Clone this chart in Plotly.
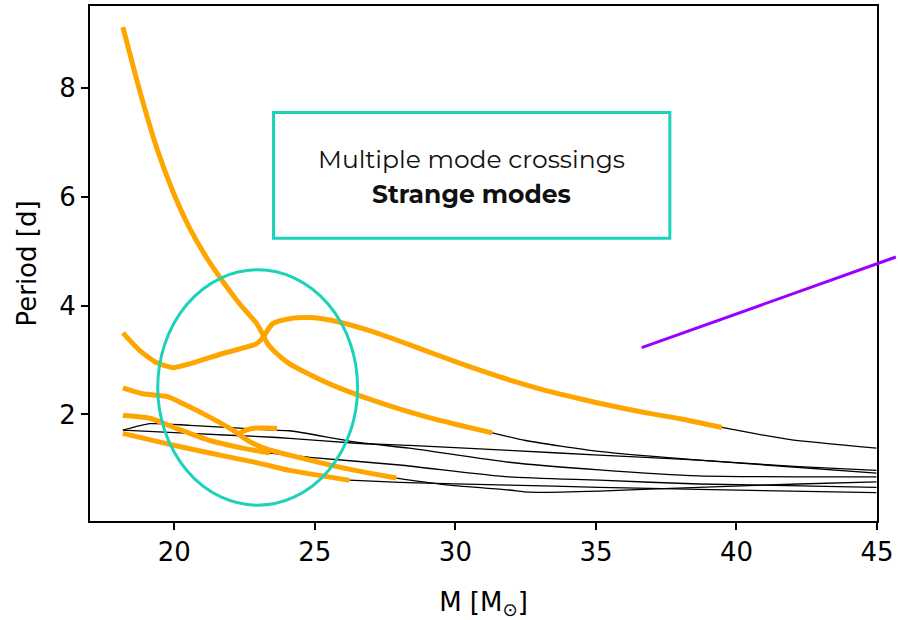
import plotly.graph_objects as go

# Stellar mass grid [M_sun] and pulsation periods [d] for each mode track.
# Each track has a highlighted (strange-mode) part and a thin continuation.

# Track A: steep mode, highlighted from 18.2 to 31.3 M_sun
a_hi_mass = [18.17, 18.78, 19.38, 19.95, 20.55, 21.15, 21.72, 22.33, 22.93, 23.14,
             23.32, 23.64, 24.10, 24.71, 25.27, 26.0, 27.0, 28.0, 29.0, 30.0, 31.31]
a_hi_period = [9.12, 7.93, 6.89, 6.10, 5.42, 4.88, 4.45, 4.03, 3.67, 3.48,
               3.30, 3.12, 2.93, 2.76, 2.62, 2.46, 2.27, 2.10, 1.95, 1.82, 1.66]
a_lo_mass = [31.31, 32.5, 35.11, 38.66, 42.21, 44.98]
a_lo_period = [1.66, 1.52, 1.32, 1.16, 1.04, 0.97]

# Track B: mode with the hump after the avoided crossing
b_hi_mass = [18.17, 18.78, 19.38, 19.95, 20.55, 21.72, 22.93, 23.14, 23.50, 24.10,
             24.71, 25.27, 26.0, 27.0, 28.0, 29.0, 30.0, 31.0, 32.0, 33.0, 34.0,
             35.0, 36.0, 37.0, 38.0, 39.48]
b_hi_period = [3.50, 3.17, 2.95, 2.86, 2.93, 3.12, 3.30, 3.41, 3.67, 3.76,
               3.78, 3.76, 3.68, 3.53, 3.35, 3.16, 2.97, 2.79, 2.62, 2.47, 2.34,
               2.22, 2.11, 2.01, 1.92, 1.76]
b_lo_mass = [39.48, 41.86, 44.98]
b_lo_period = [1.76, 1.54, 1.38]

# Track C
c_hi_mass = [18.17, 18.88, 19.73, 20.30, 21.26, 22.08, 22.68, 23.29, 24.10, 24.81,
             25.88, 26.94, 27.90]
c_hi_period = [2.49, 2.38, 2.33, 2.20, 1.95, 1.71, 1.50, 1.36, 1.25, 1.16,
               1.03, 0.92, 0.83]
c_lo_mass = [27.90, 29.78, 31.91, 32.63, 35.11, 38.66, 42.21, 44.98]
c_lo_period = [0.83, 0.70, 0.61, 0.57, 0.59, 0.66, 0.72, 0.76]

# Track D
d_hi_mass = [18.17, 19.13, 20.09, 21.26, 22.43, 23.39]
d_hi_period = [1.98, 1.93, 1.74, 1.52, 1.38, 1.29]
d_lo_mass = [23.39, 24.81, 28.01, 31.91, 35.11, 38.66, 44.98]
d_lo_period = [1.29, 1.21, 1.07, 0.85, 0.79, 0.72, 0.66]

# Track E
e_hi_mass = [18.17, 19.49, 21.26, 23.04, 24.10, 26.23]
e_hi_period = [1.65, 1.49, 1.29, 1.10, 0.97, 0.79]
e_lo_mass = [26.23, 28.01, 31.91, 35.11, 38.66, 44.98]
e_lo_period = [0.79, 0.75, 0.70, 0.66, 0.62, 0.56]

# Short highlighted branch near the crossing
f_hi_mass = [22.25, 22.55, 22.90, 23.30, 23.65]
f_hi_period = [1.64, 1.71, 1.75, 1.75, 1.74]

# Un-highlighted tracks
g1_mass = [18.17, 19.13, 20.55, 23.50, 24.10, 26.48, 28.36, 31.91, 35.11, 38.66, 44.98]
g1_period = [1.71, 1.83, 1.80, 1.71, 1.70, 1.49, 1.38, 1.12, 0.98, 0.87, 0.85]
g2_mass = [18.17, 20.55, 23.50, 24.10, 26.48, 28.36, 31.91, 35.11, 38.66, 44.98]
g2_period = [1.71, 1.65, 1.58, 1.56, 1.47, 1.43, 1.34, 1.25, 1.16, 0.92]

ORANGE = "#FFA500"
TEAL = "#1CD3BA"
PURPLE = "#9B00FF"

fig = go.Figure()

thin = [(a_lo_mass, a_lo_period), (b_lo_mass, b_lo_period), (c_lo_mass, c_lo_period),
        (d_lo_mass, d_lo_period), (e_lo_mass, e_lo_period),
        (g1_mass, g1_period), (g2_mass, g2_period)]
for xs, ys in thin:
    fig.add_trace(go.Scatter(x=xs, y=ys, mode="lines",
                             line=dict(color="black", width=1.3, shape="spline", smoothing=0.6),
                             hoverinfo="skip"))

thick = [(a_hi_mass, a_hi_period), (b_hi_mass, b_hi_period), (c_hi_mass, c_hi_period),
         (d_hi_mass, d_hi_period), (e_hi_mass, e_hi_period), (f_hi_mass, f_hi_period)]
for xs, ys in thick:
    fig.add_trace(go.Scatter(x=xs, y=ys, mode="lines",
                             line=dict(color=ORANGE, width=5, shape="spline", smoothing=0.6),
                             hoverinfo="skip"))

# Callout box, highlight ellipse and pointer line
fig.add_shape(type="rect", xref="x", yref="y", x0=23.53, x1=37.63, y0=5.24, y1=7.55,
              line=dict(color=TEAL, width=3), fillcolor="rgba(0,0,0,0)")
fig.add_shape(type="circle", xref="x", yref="y", x0=19.41, x1=26.52, y0=0.33, y1=4.66,
              line=dict(color=TEAL, width=3))
fig.add_shape(type="line", xref="paper", yref="paper", x0=0.701, y0=0.3366, x1=1.024, y1=0.5126,
              line=dict(color=PURPLE, width=3))

fig.add_annotation(x=30.57, y=6.69, xref="x", yref="y", showarrow=False,
                   text="Multiple mode crossings",
                   font=dict(family="Montserrat, Open Sans, sans-serif", size=25, color="#111111"))
fig.add_annotation(x=30.57, y=6.05, xref="x", yref="y", showarrow=False,
                   text="<b>Strange modes</b>",
                   font=dict(family="Montserrat, Open Sans, sans-serif", size=25, color="#111111"))

axis_font = dict(family="DejaVu Sans", size=26, color="black")
fig.update_layout(
    width=898, height=620,
    margin=dict(l=90, r=19, t=4, b=99),
    paper_bgcolor="white", plot_bgcolor="white",
    showlegend=False,
    xaxis=dict(range=[17, 45], tickvals=[20, 25, 30, 35, 40, 45],
               showline=True, mirror=True, linecolor="black", linewidth=2,
               ticks="outside", ticklen=7, tickwidth=2, tickcolor="black",
               showgrid=False, zeroline=False, tickfont=axis_font,
               title=dict(text="M [M<sub>⊙</sub>]", font=axis_font, standoff=27)),
    yaxis=dict(range=[0.04, 9.51], tickvals=[2, 4, 6, 8],
               showline=True, mirror=True, linecolor="black", linewidth=2,
               ticks="outside", ticklen=7, tickwidth=2, tickcolor="black",
               showgrid=False, zeroline=False, tickfont=axis_font,
               title=dict(text="Period [d]", font=axis_font, standoff=15)),
)

fig.write_html("out.html")
